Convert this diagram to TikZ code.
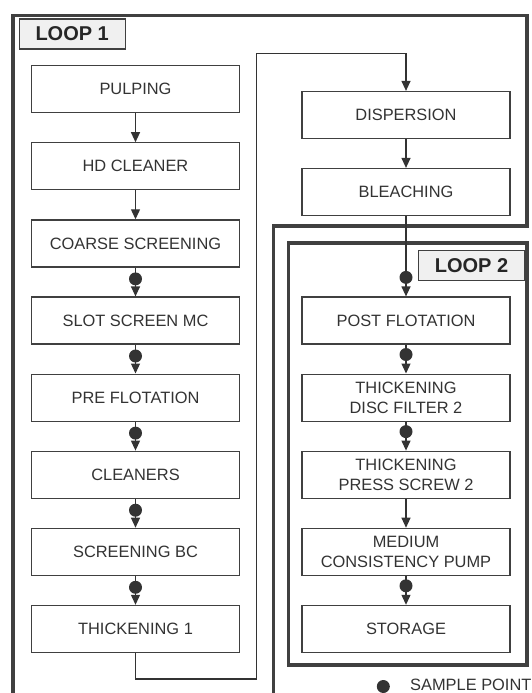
\documentclass[tikz,border=0pt]{standalone}
\usepackage{fontspec}
\setmainfont{Liberation Sans}
\usetikzlibrary{arrows.meta}

\begin{document}
\begin{tikzpicture}[x=1pt, y=-1pt,
    stage/.style={draw=black!75, line width=1.2pt, fill=white, minimum width=208pt,
      minimum height=47pt, inner sep=0pt, align=center, text=black!80,
      font=\fontsize{16.4}{20}\selectfont},
    looplabel/.style={draw=black!75, line width=1.3pt, fill=black!6, minimum width=106pt,
      minimum height=30pt, inner sep=0pt, text=black!85,
      font=\fontsize{20}{24}\selectfont\bfseries},
    frame/.style={draw=black!75, line width=3.5pt, line join=miter},
    flow/.style={draw=black!80, line width=1.2pt, -{Triangle[length=10pt,width=9pt]}},
    sample/.style={circle, fill=black!80, minimum size=13pt, inner sep=0pt}]
  \useasboundingbox (0,0) rectangle (532,693);

  % Loop frames: loop 1 runs off the bottom edge
  \draw[frame] (13,693) -- (13,15.5) -- (527,15.5) -- (527,226)
    -- (273.3,226) -- (273.3,693);
  \draw[frame] (288.5,243) rectangle (527,665);
  \node[looplabel] (loopA) at (72.2,34) {LOOP 1};
  \node[looplabel] (loopB) at (471.5,265.4) {LOOP 2};

  % Left column: one row every 77.1pt
  \foreach \k/\txt in {0/PULPING, 1/HD CLEANER, 2/COARSE SCREENING, 3/SLOT SCREEN MC,
      4/PRE FLOTATION, 5/CLEANERS, 6/SCREENING BC, 7/THICKENING 1} {
    \pgfmathsetmacro{\yk}{89.2 + \k*77.1}
    \node[stage] (L\k) at (135.5,\yk) {\txt};
  }
  \foreach \k in {0,1,...,6} {
    \pgfmathtruncatemacro{\n}{\k+1}
    \draw[flow] (L\k) -- (L\n);
  }
  % sample points from coarse screening on
  \foreach \k in {3,4,...,7}
    \node[sample] (sL\k) at ([yshift=17.5pt]L\k.north) {};

  % Right column, above loop 2
  \node[stage] (r0) at (406,115) {DISPERSION};
  \node[stage] (r1) at (406,192) {BLEACHING};
  \draw[flow] (r0) -- (r1);

  % Loop 2, on the same rows as the left column
  \foreach \k/\txt in {3/POST FLOTATION, 4/{THICKENING\\DISC FILTER 2},
      5/{THICKENING\\PRESS SCREW 2}, 6/{MEDIUM\\CONSISTENCY PUMP}, 7/STORAGE} {
    \pgfmathsetmacro{\yk}{89.2 + \k*77.1}
    \node[stage] (m\k) at (406,\yk) {\txt};
  }
  \draw[flow] (r1) -- (m3);
  \foreach \k in {3,4,5,6} {
    \pgfmathtruncatemacro{\n}{\k+1}
    \draw[flow] (m\k) -- (m\n);
  }
  \foreach \k in {3,4,5,7}
    \node[sample] (sm\k) at ([yshift=19pt]m\k.north) {};

  % bypass from thickening 1 up to dispersion
  \coordinate (bypass) at (256.7,53.3);
  \draw[flow] (L7.south) -- ++(0,26) -| (bypass) -| (r0.north);

  % key
  \node[sample] (key) at (383.3,686.5) {};
  \node[anchor=west, inner sep=0pt, text=black!80, font=\fontsize{16.4}{20}\selectfont]
    (keytext) at (410,684.5) {SAMPLE POINT};
\end{tikzpicture}
\end{document}
